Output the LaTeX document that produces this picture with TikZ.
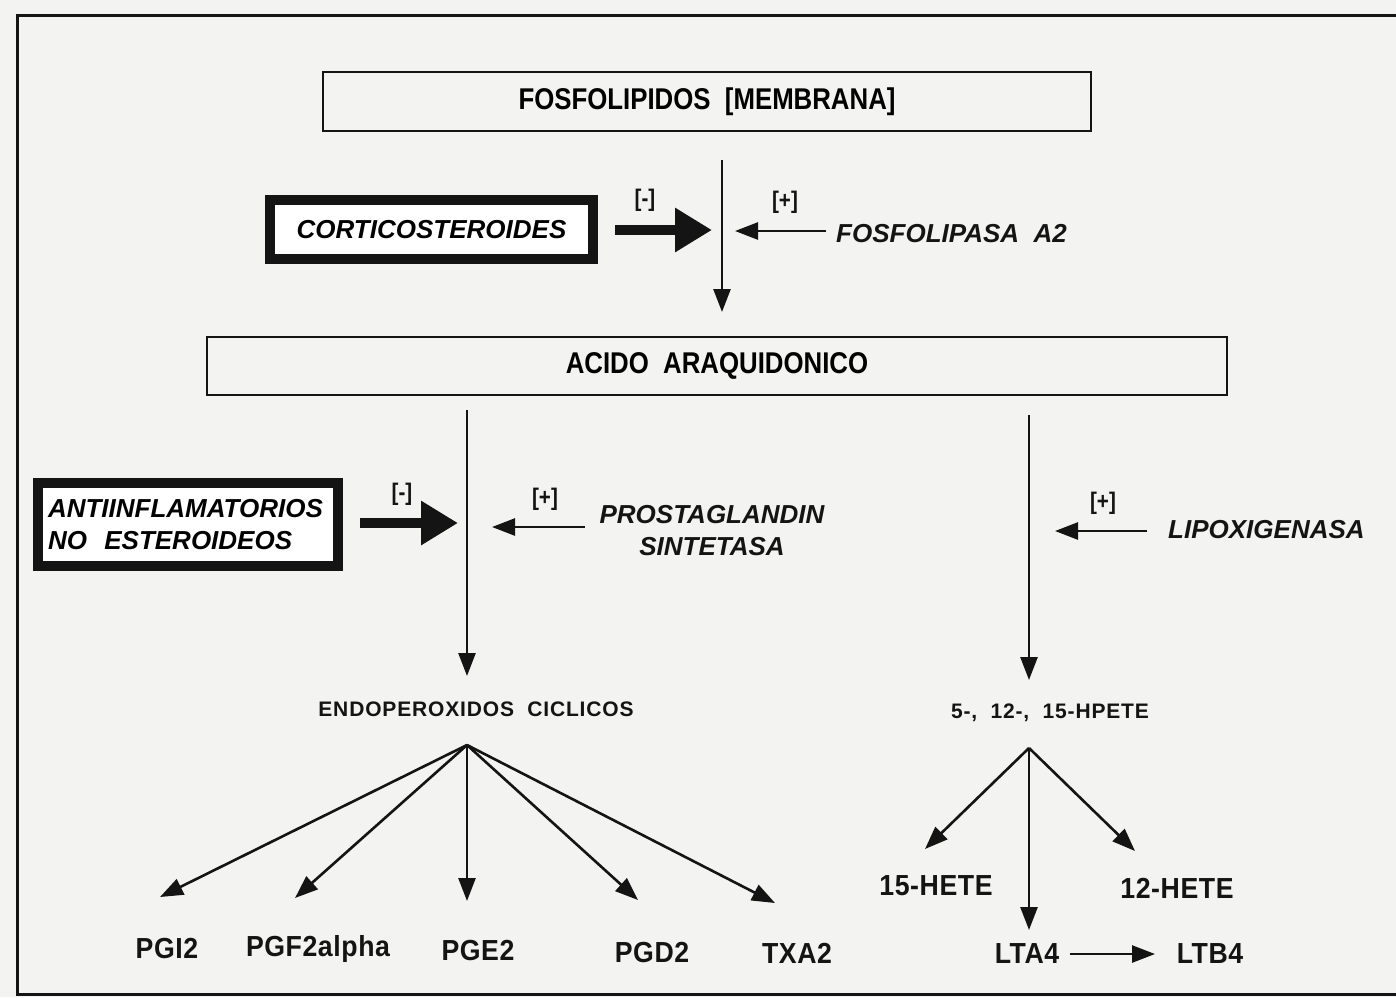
\documentclass[tikz,border=0pt]{standalone}
\usepackage{fontspec}
\setmainfont{Liberation Sans}
\newfontfamily\narrowbold[FakeStretch=0.86]{Liberation Sans}
\newfontfamily\spacedbold[LetterSpace=4]{Liberation Sans}
\newfontfamily\productfont[FakeStretch=0.92,LetterSpace=2]{Liberation Sans}
\usetikzlibrary{arrows.meta}
\definecolor{paper}{RGB}{243,243,241}
\definecolor{ink}{RGB}{20,20,20}
\begin{document}
\begin{tikzpicture}[x=1pt,y=-1pt,
  boxnode/.style={draw=ink, line width=2.4pt, inner sep=0pt, font=\fontsize{30}{32}\selectfont\narrowbold\bfseries},
  heavybox/.style={draw=ink, fill=white, line width=10pt, inner sep=0pt, font=\fontsize{26}{32}\selectfont\bfseries\itshape},
  enzyme/.style={text=ink, font=\fontsize{26}{32}\selectfont\bfseries\itshape, align=center},
  sign/.style={text=ink, font=\fontsize{24}{26}\selectfont\narrowbold\bfseries},
  product/.style={text=ink, font=\fontsize{29}{32}\selectfont\productfont\bfseries},
  midlabel/.style={text=ink, font=\fontsize{21}{24}\selectfont\spacedbold\bfseries},
  thinarrow/.style={draw=ink, line width=2.6pt, -{Triangle[length=23pt,width=17pt]}},
  thickarrow/.style={draw=ink, line width=10pt, -{Triangle[length=37pt,width=42pt]}},
  frame/.style={draw=ink, line width=3pt}
]
\fill[paper] (0,0) rectangle (1396,997);
\useasboundingbox (0,0) rectangle (1396,997);

% page frame
\draw[frame] (1396,15) -- (17,15) -- (17,994) -- (1396,994);

% main boxes
\node[boxnode, minimum width=768pt, minimum height=59pt] (fos) at (707,101.5) {FOSFOLIPIDOS\ \ [MEMBRANA]};
\node[boxnode, minimum width=1020pt, minimum height=58pt] (acido) at (717,366) {ACIDO\ \ ARAQUIDONICO};

% inhibitor boxes
\node[heavybox, minimum width=323pt, minimum height=59pt] (cort) at (431.5,229.5) {CORTICOSTEROIDES};
\node[heavybox, minimum width=300pt, minimum height=83pt, align=left, text width=280pt] (anti) at (188,524.5) {ANTIINFLAMATORIOS\\NO\ \ ESTEROIDEOS};

% signs
\node[sign] (m1) at (645,200) {[-]};
\node[sign] (p1) at (785,202) {[+]};
\node[sign] (m2) at (402,494) {[-]};
\node[sign] (p2) at (545,499) {[+]};
\node[sign] (p3) at (1103,503) {[+]};

% enzymes
\node[enzyme, anchor=west, inner sep=0pt] (fa) at (836,234) {FOSFOLIPASA\ \ A2};
\node[enzyme, inner sep=0pt] (ps) at (712,531) {PROSTAGLANDIN\\SINTETASA};
\node[enzyme, anchor=west, inner sep=0pt] (lx) at (1168,530) {LIPOXIGENASA};

% intermediates
\node[midlabel] (endo) at (476,709) {ENDOPEROXIDOS\ \ CICLICOS};
\node[midlabel] (hpete) at (1050,713) {5-,\ \ 12-,\ \ 15-HPETE};

% products
\node[product] (pgi) at (167,948) {PGI2};
\node[product] (pgf) at (318,949) {PGF2alpha};
\node[product] (pge) at (478,950) {PGE2};
\node[product] (pgd) at (652,952) {PGD2};
\node[product] (txa) at (797,953) {TXA2};
\node[product] (h15) at (936,886) {15-HETE};
\node[product] (h12) at (1177,888) {12-HETE};
\node[product] (lta) at (1027,954) {LTA4};
\node[product] (ltb) at (1210,954) {LTB4};

% coordinates of free ends
\coordinate (v1a) at (722,160);
\coordinate (v1b) at (722,312);
\coordinate (v2a) at (467,410);
\coordinate (v2b) at (467,676);
\coordinate (v3a) at (1029,415);
\coordinate (v3b) at (1029,680);
\coordinate (c1s) at (615,230);
\coordinate (c1t) at (712,230);
\coordinate (c2s) at (360,523);
\coordinate (c2t) at (458,523);
\coordinate (e1s) at (826,231);
\coordinate (e1t) at (735,231);
\coordinate (e2s) at (585,527);
\coordinate (e2t) at (492,527);
\coordinate (e3s) at (1147,531);
\coordinate (e3t) at (1055,531);
\coordinate (ef) at (467,745);
\coordinate (hf) at (1029,748);
\coordinate (tpgi) at (160,897);
\coordinate (tpgf) at (295,898);
\coordinate (tpge) at (467,901);
\coordinate (tpgd) at (638,900);
\coordinate (ttxa) at (775,903);
\coordinate (th15) at (925,849);
\coordinate (th12) at (1135,851);
\coordinate (tlta) at (1029,930);
\coordinate (l1) at (1070,954);
\coordinate (l2) at (1155,954);

% main flow
\draw[thinarrow] (v1a) -- (v1b);
\draw[thinarrow] (v2a) -- (v2b);
\draw[thinarrow] (v3a) -- (v3b);

% inhibition / activation
\draw[thickarrow] (c1s) -- (c1t);
\draw[thickarrow] (c2s) -- (c2t);
\draw[thinarrow] (e1s) -- (e1t);
\draw[thinarrow] (e2s) -- (e2t);
\draw[thinarrow] (e3s) -- (e3t);

% fans
\foreach \t in {tpgi,tpgf,tpge,tpgd,ttxa} \draw[thinarrow] (ef) -- (\t);
\foreach \t in {th15,th12,tlta} \draw[thinarrow] (hf) -- (\t);
\draw[thinarrow] (l1) -- (l2);
\end{tikzpicture}
\end{document}
